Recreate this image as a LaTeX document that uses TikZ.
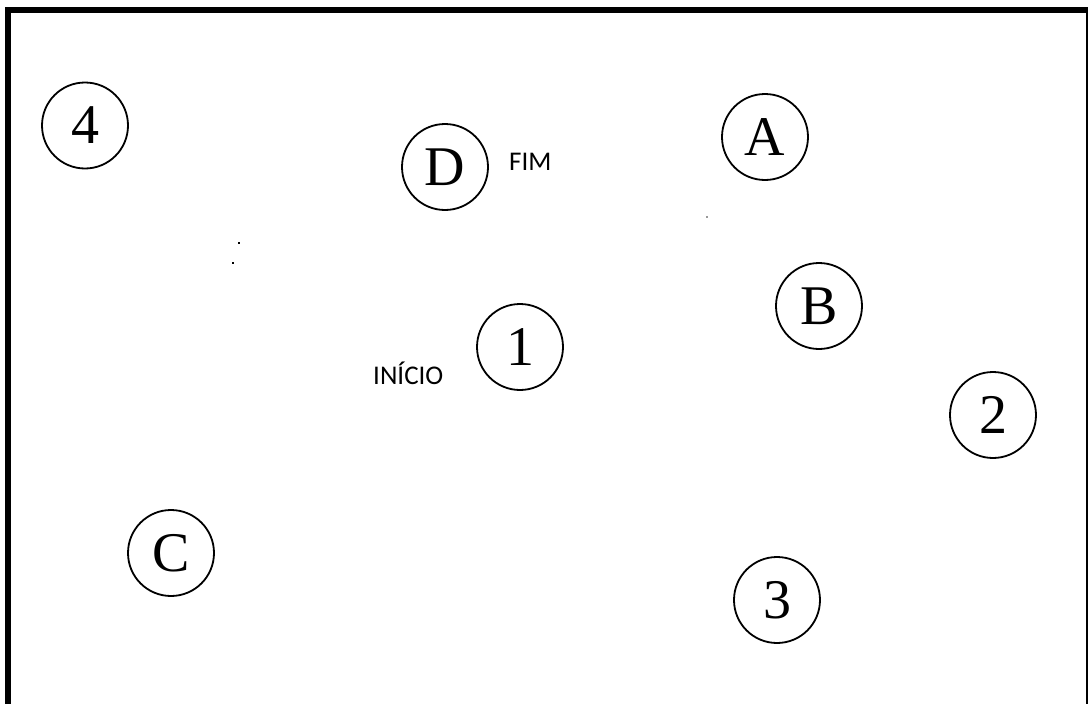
\documentclass[tikz,border=0pt]{standalone}
\usepackage{fontspec}
\setmainfont{Liberation Serif}
\newfontfamily\labfont{Carlito}
\tikzset{
  spot/.style={circle, draw=black, line width=1.8pt, minimum size=86pt, inner sep=0pt,
    font=\fontsize{56}{56}\selectfont},
  tag/.style={font=\labfont\fontsize{27}{27}\selectfont, inner sep=0pt},
  speck/.style={fill=black, inner sep=0pt, minimum size=2pt, rectangle}
}
\begin{document}
\begin{tikzpicture}[x=1pt,y=-1pt]
\useasboundingbox (0,0) rectangle (1088,704);
\fill[white] (0,0) rectangle (1088,704);
\draw[line width=6pt] (7.5,9.5) rectangle (1089,707);
\node[spot] (n4) at (85,125.5) {4};
\node[spot] (nD) at (445,167) {D};
\node[spot] (nA) at (765,137) {A};
\node[spot] (nB) at (819,306) {B};
\node[spot] (n1) at (520,347) {1};
\node[spot] (n2) at (993,415) {2};
\node[spot] (nC) at (171,553) {C};
\node[spot] (n3) at (777,600) {3};
\node[tag, anchor=base west] (fim) at (509,170) {FIM};
\node[tag, anchor=base west] (inicio) at (373,384) {INÍCIO};
\node[speck] (s1) at (239,243) {};
\node[speck] (s2) at (233,263) {};
\node[speck, fill=black!40, minimum size=1.5pt] (s3) at (707,217) {};
\end{tikzpicture}
\end{document}
